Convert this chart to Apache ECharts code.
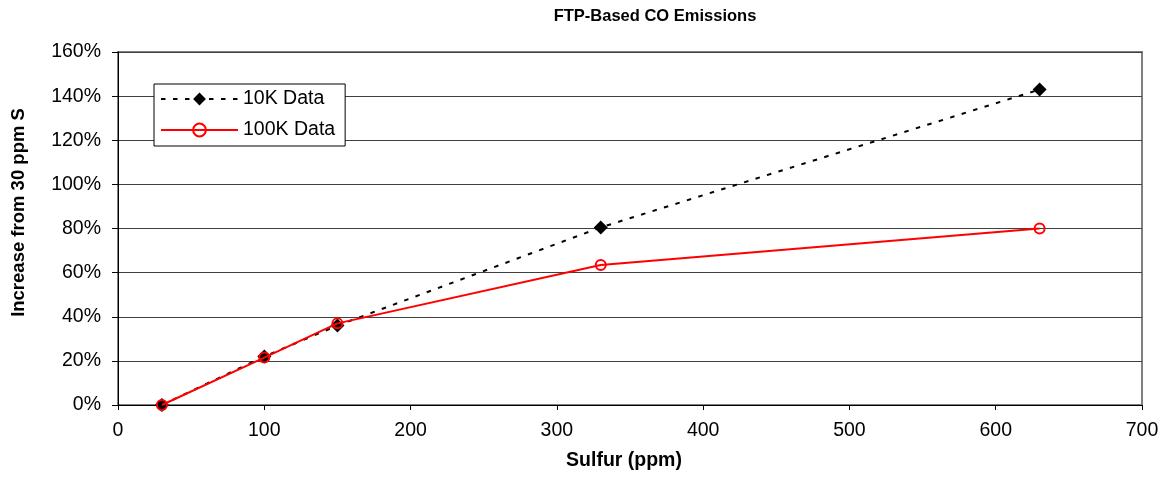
<!DOCTYPE html>
<html><head><meta charset="utf-8">
<script src="https://cdn.jsdelivr.net/npm/echarts@6/dist/echarts.min.js"></script>
<style>html,body{margin:0;padding:0;background:#fff}#c{width:1167px;height:480px}</style>
</head><body><div id="c"></div>
<script>
const sulfur = [30, 100, 150, 330, 630];
const data10K = [0, 0.22, 0.36, 0.805, 1.43];
const data100K = [0, 0.215, 0.37, 0.635, 0.80];
const seriesNames = ['10K Data', '100K Data'];
const titleText = 'FTP-Based CO Emissions';
const xName = 'Sulfur (ppm)';
const yName = 'Increase from 30 ppm S';

const F = 'Liberation Sans, Arial, sans-serif';
const FS = 19.5;
const chart = echarts.init(document.getElementById('c'), null, {renderer: 'canvas'});
chart.setOption({
  backgroundColor: '#fff',
  animation: false,
  title: {text: titleText, left: 655, top: 8, textAlign: 'center', padding: 0,
    textStyle: {fontFamily: F, fontWeight: 'bold', fontSize: 16.5, color: '#000'}},
  legend: {
    orient: 'vertical', left: 154, top: 84,
    backgroundColor: '#fff', borderColor: '#000', borderWidth: 1,
    padding: [5, 10, 6, 6], itemGap: 11, itemWidth: 77, itemHeight: 16,
    textStyle: {fontFamily: F, fontSize: FS, color: '#000'},
    data: seriesNames
  },
  grid: {left: 118, right: 25, top: 52, bottom: 75, show: true, borderColor: '#808080', borderWidth: 2},
  xAxis: {
    type: 'value', min: 0, max: 700, interval: 100,
    name: xName, nameLocation: 'middle', nameGap: 46,
    nameTextStyle: {fontFamily: F, fontWeight: 'bold', fontSize: FS, color: '#000', padding: [0, 12, 0, 0]},
    axisLine: {show: true, lineStyle: {color: '#000', width: 1}},
    axisTick: {show: true, inside: false, length: 5, lineStyle: {color: '#000'}},
    axisLabel: {fontFamily: F, fontSize: FS, color: '#000', margin: 16},
    splitLine: {show: false}
  },
  yAxis: {
    type: 'value', min: 0, max: 1.6, interval: 0.2,
    name: yName, nameLocation: 'middle', nameGap: 90, nameRotate: 90,
    nameTextStyle: {fontFamily: F, fontWeight: 'bold', fontSize: 18.5, color: '#000', padding: [0, 0, 0, 32]},
    axisLine: {show: true, lineStyle: {color: '#000', width: 1}},
    axisTick: {show: true, inside: false, length: 6, lineStyle: {color: '#000'}},
    axisLabel: {fontFamily: F, fontSize: FS, color: '#000', margin: 17,
      formatter: v => Math.round(v * 100) + '%'},
    splitLine: {show: true, lineStyle: {color: '#404040', width: 1}}
  },
  series: [
    {name: seriesNames[0], type: 'line', data: sulfur.map((x, i) => [x, data10K[i]]),
      symbol: 'diamond', symbolSize: 14,
      lineStyle: {color: '#000', width: 2, type: [4.5, 7.5]},
      itemStyle: {color: '#000'}, z: 2},
    {name: seriesNames[1], type: 'line', data: sulfur.map((x, i) => [x, data100K[i]]),
      symbol: 'circle', symbolSize: 10,
      lineStyle: {color: '#ff0000', width: 2},
      itemStyle: {color: 'rgba(255,255,255,0)', borderColor: '#ff0000', borderWidth: 2}, z: 3}
  ]
});
</script></body></html>
